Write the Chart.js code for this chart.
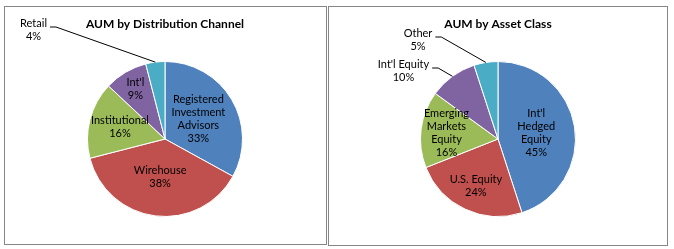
<!DOCTYPE html>
<html>
<head>
<meta charset="utf-8">
<script src="https://cdn.jsdelivr.net/npm/chart.js@4/dist/chart.umd.min.js"></script>
<style>
  body { margin: 0; background: #fff; width: 674px; height: 249px; position: relative; overflow: hidden; }
  .box { position: absolute; border: 1px solid #868686; box-sizing: border-box; }
  canvas { position: absolute; top: 0; }
</style>
</head>
<body>
<div class="box" style="left:4px;top:6px;width:323px;height:239px"></div>
<div class="box" style="left:328px;top:6px;width:340px;height:240px"></div>
<canvas id="chart1" width="335" height="249" style="left:0"></canvas>
<canvas id="chart2" width="339" height="249" style="left:335px"></canvas>
<script>
// data (percent of AUM)
const channelLabels = [["Registered", "Investment", "Advisors"], ["Wirehouse"], ["Institutional"], ["Int'l"], ["Retail"]];
const channelValues = [33, 38, 16, 9, 4];

const assetLabels = [["Int'l", "Hedged", "Equity"], ["U.S. Equity"], ["Emerging", "Markets", "Equity"], ["Int'l Equity"], ["Other"]];
const assetValues = [45, 24, 16, 10, 5];

const colors = ["#4F81BD", "#C0504D", "#9BBB59", "#8064A2", "#4BACC6"];

const LH = 13;

// draws title + data labels (inside ones at a fraction of the radius, outside ones with a leader)
const sliceLabels = {
  id: "sliceLabels",
  afterDatasetsDraw(chart, args, opts) {
    const ctx = chart.ctx;
    const meta = chart.getDatasetMeta(0);
    const ds = chart.data.datasets[0];
    const cx = meta.data[0].x, cy = meta.data[0].y, r = meta.data[0].outerRadius;
    ctx.save();
    ctx.fillStyle = "#000";
    ctx.textAlign = "center";
    ctx.textBaseline = "middle";
    ctx.font = "bold 12px Lato";
    ctx.fillText(opts.title, cx, opts.titleY);
    ctx.font = "11px Lato";
    meta.data.forEach((arc, i) => {
      const lines = [].concat(chart.data.labels[i], ds.data[i] + "%");
      const mid = (arc.startAngle + arc.endAngle) / 2;
      const p = opts.place[i];
      let x, y;
      if (p.out) {
        x = cx + p.dx;
        y = cy + p.dy;
      } else {
        x = cx + Math.cos(mid) * r * p.r;
        y = cy + Math.sin(mid) * r * p.r;
      }
      const top = y - (lines.length - 1) * LH / 2;
      lines.forEach((t, k) => ctx.fillText(t, x, top + k * LH));
      if (p.out) {
        const w = ctx.measureText(lines[0]).width;
        const sx = x + w / 2 + 3, sy = top + 4;
        ctx.beginPath();
        ctx.moveTo(sx, sy);
        ctx.lineTo(sx + 6, sy);
        ctx.lineTo(cx + Math.cos(mid) * r, cy + Math.sin(mid) * r);
        ctx.strokeStyle = "#000";
        ctx.lineWidth = 1;
        ctx.stroke();
      }
    });
    ctx.restore();
  }
};

function makePie(id, labels, values, pad, labelOpts) {
  return new Chart(document.getElementById(id), {
    type: "pie",
    data: {
      labels: labels,
      datasets: [{
        data: values,
        backgroundColor: colors,
        borderColor: "#ffffff",
        borderWidth: 1
      }]
    },
    options: {
      responsive: false,
      animation: false,
      devicePixelRatio: 1,
      events: [],
      layout: { padding: pad },
      plugins: {
        legend: { display: false },
        tooltip: { enabled: false },
        sliceLabels: labelOpts
      }
    },
    plugins: [sliceLabels]
  });
}

makePie("chart1", channelLabels, channelValues,
  { left: 87, right: 92, top: 61, bottom: 32 },
  {
    title: "AUM by Distribution Channel",
    titleY: 24,
    place: [{ r: 0.5 }, { r: 0.5 }, { r: 0.6 }, { r: 0.75 }, { out: true, dx: -131.5, dy: -109.5 }]
  });

makePie("chart2", assetLabels, assetValues,
  { left: 85, right: 98, top: 61, bottom: 32 },
  {
    title: "AUM by Asset Class",
    titleY: 24,
    place: [{ r: 0.5 }, { r: 0.67 }, { r: 0.67 }, { out: true, dx: -94.5, dy: -68.5 }, { out: true, dx: -80, dy: -99.5 }]
  });
</script>
</body>
</html>
